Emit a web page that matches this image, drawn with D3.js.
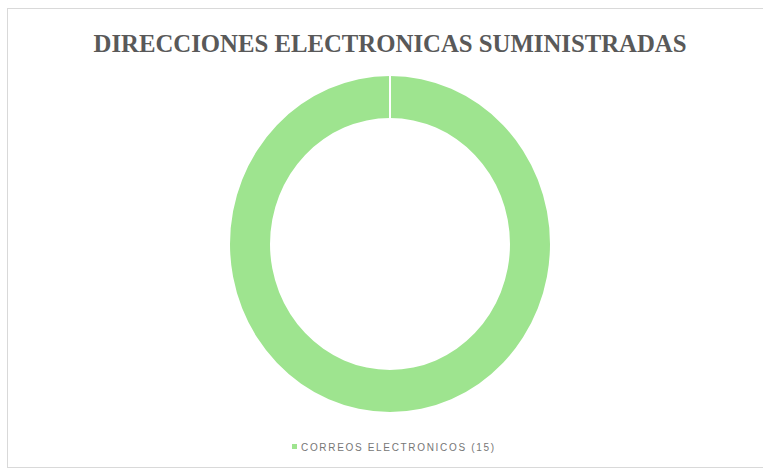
<!DOCTYPE html>
<html><head><meta charset="utf-8">
<script src="https://cdn.jsdelivr.net/npm/d3@7"></script>
<style>body{margin:0;background:#fff}svg{display:block}</style>
</head><body>
<svg id="c" width="763" height="471"></svg>
<script>
const title = "DIRECCIONES ELECTRONICAS SUMINISTRADAS";
const categories = ["CORREOS ELECTRONICOS"];
const values = [15];
const colors = ["#9ee48f"];

const svg = d3.select("#c");
// chart frame
svg.append("rect").attr("x", 7.5).attr("y", 8.5).attr("width", 800).attr("height", 459)
  .attr("fill", "#fff").attr("stroke", "#d9d9d9");

svg.append("text").attr("x", 390).attr("y", 52).attr("text-anchor", "middle")
  .attr("font-family", "Liberation Serif").attr("font-weight", "bold").attr("font-size", 26)
  .attr("fill", "#595959").attr("textLength", 593).attr("lengthAdjust", "spacingAndGlyphs")
  .text(title);

const cx = 390, cy = 244, outerR = 160, innerR = 120, sy = 168 / 160;
const pie = d3.pie().sort(null);
const arcs = pie(values);
const arc = d3.arc().innerRadius(innerR).outerRadius(outerR);
const g = svg.append("g").attr("transform", `translate(${cx},${cy}) scale(1,${sy})`);
g.selectAll("path.slice").data(arcs).join("path").attr("class", "slice")
  .attr("d", arc).attr("fill", (d, i) => colors[i]);
// slice borders (white separators at each slice start)
g.selectAll("line.sep").data(arcs).join("line").attr("class", "sep")
  .attr("x1", d => innerR * Math.sin(d.startAngle)).attr("y1", d => -innerR * Math.cos(d.startAngle))
  .attr("x2", d => (outerR + 1) * Math.sin(d.startAngle)).attr("y2", d => -(outerR + 1) * Math.cos(d.startAngle))
  .attr("stroke", "#fff").attr("stroke-width", 2);

// legend
const lg = svg.append("g").attr("transform", "translate(292,451)");
lg.selectAll("rect").data(categories).join("rect")
  .attr("x", 0).attr("y", -7).attr("width", 5).attr("height", 5).attr("fill", (d, i) => colors[i]);
lg.selectAll("text").data(categories).join("text")
  .attr("x", 9).attr("y", 0)
  .attr("font-family", "Liberation Sans").attr("font-size", 10).attr("fill", "#767676")
  .attr("textLength", 193).attr("lengthAdjust", "spacing")
  .text((d, i) => `${d} (${values[i]})`);
</script>
</body></html>
